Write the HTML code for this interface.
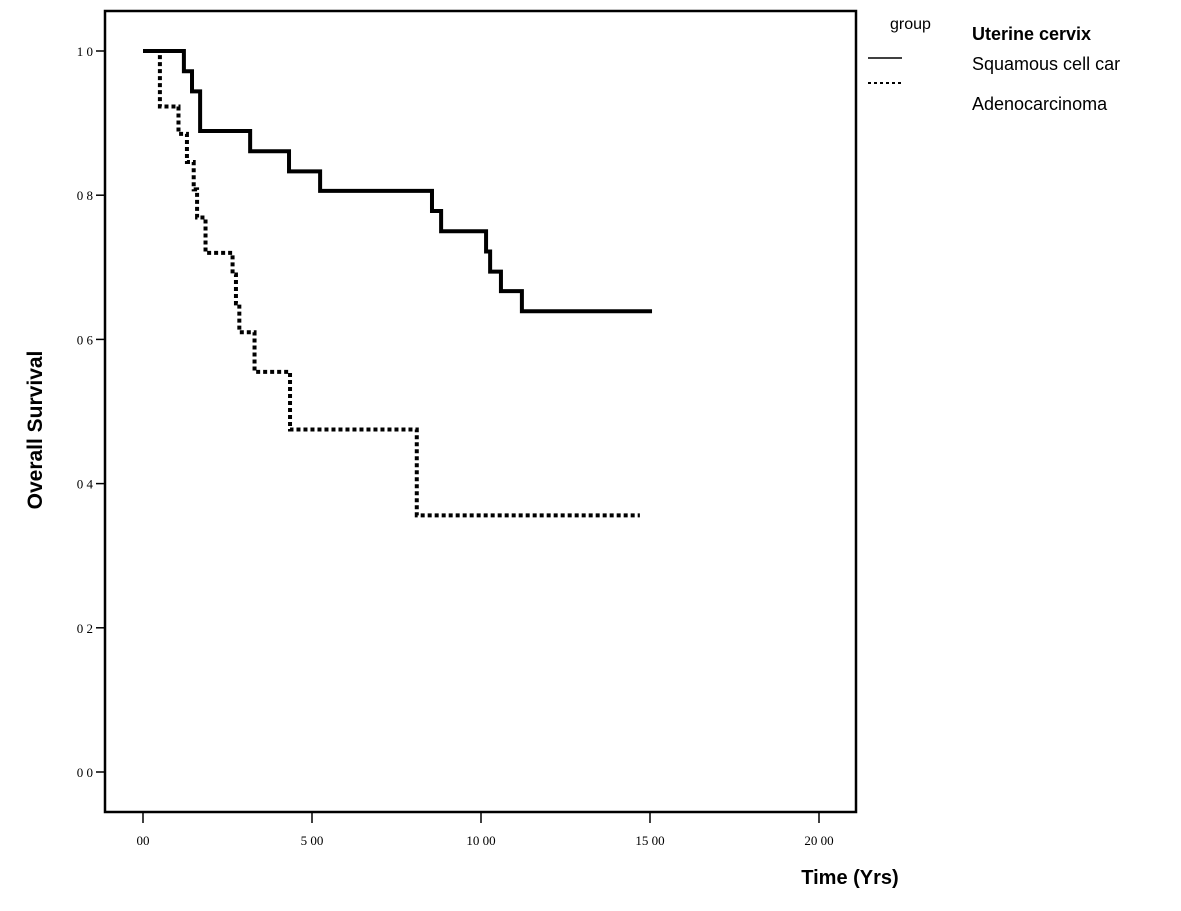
<!DOCTYPE html>
<html><head><meta charset="utf-8"><style>
body{margin:0;background:#fff;}
svg{display:block;}
</style></head><body>
<svg id="chart" width="1181" height="911" xmlns="http://www.w3.org/2000/svg">
<rect x="105" y="11" width="751" height="801" fill="none" stroke="#000" stroke-width="2.5"/>
<g id="yt"></g>
<g id="xt"></g>
<g id="series"></g>
<text transform="translate(42,430) rotate(-90)" text-anchor="middle" font-family="Liberation Sans, sans-serif" font-weight="bold" font-size="21">Overall  Survival</text>
<text x="850" y="884" text-anchor="middle" font-family="Liberation Sans, sans-serif" font-weight="bold" font-size="20">Time (Yrs)</text>
<g font-family="Liberation Sans, sans-serif">
<text x="890" y="29" font-size="16">group</text>
<text x="972" y="40" font-size="18" font-weight="bold">Uterine cervix</text>
<line x1="868" y1="58" x2="902" y2="58" stroke="#000" stroke-width="1.5"/>
<text x="972" y="70" font-size="18">Squamous cell car</text>
<line x1="868" y1="83" x2="902" y2="83" stroke="#000" stroke-width="2" stroke-dasharray="3,3"/>
<text x="972" y="110" font-size="18">Adenocarcinoma</text>
</g>
</svg>
<script>
const yTicks=[0,0.2,0.4,0.6,0.8,1.0];
const yTickLabels=["0 0","0 2","0 4","0 6","0 8","1 0"];
const xTicks=[0,5,10,15,20];
const xTickLabels=["00","5 00","10 00","15 00","20 00"];
const sqTimes=[0,1.21,1.45,1.69,3.17,4.32,5.24,8.55,8.82,10.15,10.27,10.59,11.21];
const sqSurv=[1.0,0.972,0.944,0.889,0.861,0.833,0.806,0.778,0.75,0.722,0.694,0.667,0.639];
const sqEnd=15.06;
const adTimes=[0,0.5,1.05,1.3,1.5,1.6,1.85,2.65,2.75,2.85,3.3,4.35,8.1];
const adSurv=[1.0,0.923,0.885,0.846,0.808,0.769,0.72,0.69,0.65,0.61,0.555,0.475,0.356];
const adEnd=14.7;
const NS="http://www.w3.org/2000/svg";
const x=t=>143+33.8*t;
const y=v=>772-721*v;
const yt=document.getElementById('yt'),xt=document.getElementById('xt'),se=document.getElementById('series');
yTicks.forEach((v,i)=>{
  const l=document.createElementNS(NS,'line');
  
  
  l.setAttribute('x1',96);l.setAttribute('x2',105);l.setAttribute('y1',y(v));l.setAttribute('y2',y(v));
  l.setAttribute('stroke','#000');l.setAttribute('stroke-width','1.5');yt.appendChild(l);
  const t=document.createElementNS(NS,'text');
  
  
  t.setAttribute('x',93);t.setAttribute('y',y(v)+5);t.setAttribute('text-anchor','end');
  t.setAttribute('font-family','Liberation Serif, serif');t.setAttribute('font-size','13');
  t.textContent=yTickLabels[i];yt.appendChild(t);
});
xTicks.forEach((v,i)=>{
  const l=document.createElementNS(NS,'line');
  
  
  l.setAttribute('x1',x(v));l.setAttribute('x2',x(v));l.setAttribute('y1',812);l.setAttribute('y2',823);
  l.setAttribute('stroke','#000');l.setAttribute('stroke-width','1.5');xt.appendChild(l);
  const t=document.createElementNS(NS,'text');
  
  
  t.setAttribute('x',x(v));t.setAttribute('y',845);t.setAttribute('text-anchor','middle');
  t.setAttribute('font-family','Liberation Serif, serif');t.setAttribute('font-size','13');
  t.textContent=xTickLabels[i];xt.appendChild(t);
});
function stepPath(ts,vs,end){
  let d='M'+x(ts[0])+','+y(vs[0]);
  for(let i=1;i<ts.length;i++){d+=' H'+x(ts[i])+' V'+y(vs[i]);}
  d+=' H'+x(end);return d;
}
const p1=document.createElementNS(NS,'path');


p1.setAttribute('d',stepPath(sqTimes,sqSurv,sqEnd));
p1.setAttribute('fill','none');p1.setAttribute('stroke','#000');p1.setAttribute('stroke-width','4');
se.appendChild(p1);
const p2=document.createElementNS(NS,'path');


p2.setAttribute('d',stepPath(adTimes,adSurv,adEnd));
p2.setAttribute('fill','none');p2.setAttribute('stroke','#000');p2.setAttribute('stroke-width','4');
p2.setAttribute('stroke-dasharray','4,3');
se.appendChild(p2);
</script>
</body></html>
